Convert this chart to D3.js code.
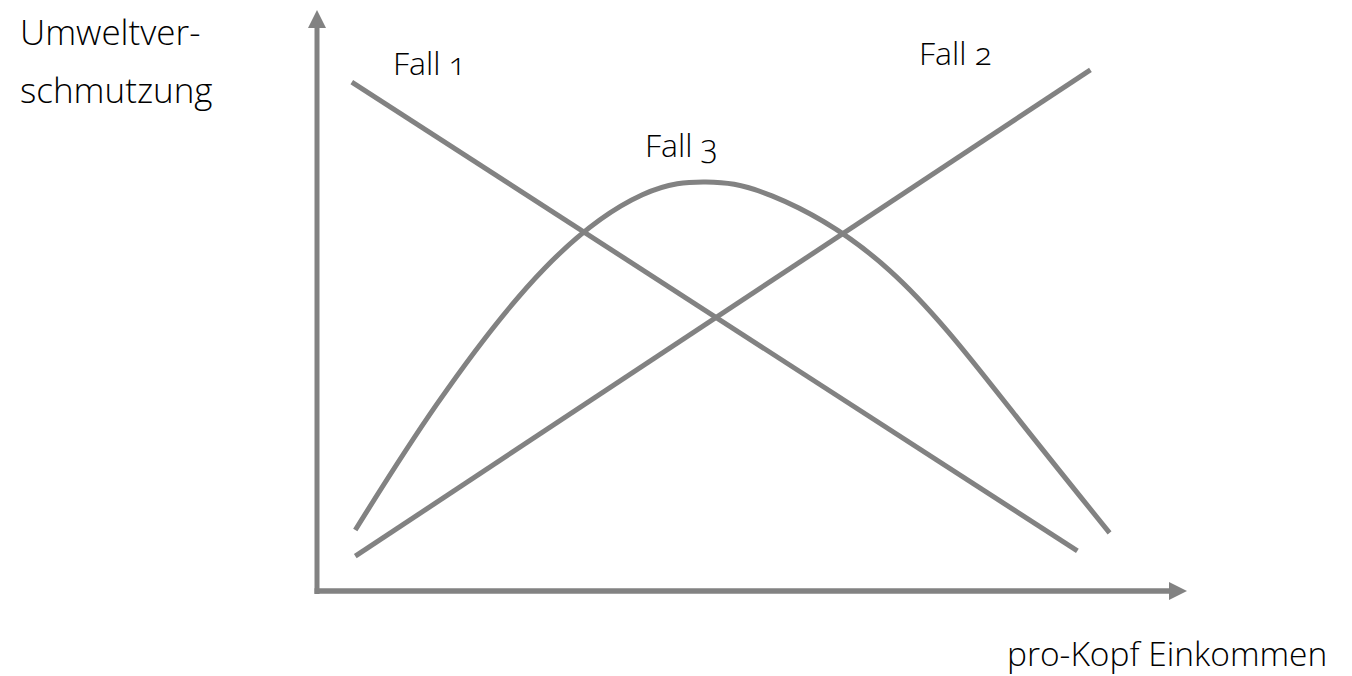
<!DOCTYPE html>
<html>
<head>
<meta charset="utf-8">
<script src="https://cdn.jsdelivr.net/npm/d3@7"></script>
<style>
  body { margin: 0; background: #fff; }
  text { font-family: "Open Sans", "Noto Sans", sans-serif; font-weight: 300; fill: #000; font-feature-settings: "onum"; }
</style>
</head>
<body>
<div id="chart"></div>
<script>
// data (arbitrary units 0..100 on both axes)
var fall1X = [4.0, 87.4];
var fall1Y = [87.6, 6.9];

var fall2X = [4.4, 88.9];
var fall2Y = [6.0, 89.7];

var fall3X = [4.4, 13.8, 26.2, 37.4, 44.7, 52.3, 65.8, 79.5, 91.1];
var fall3Y = [10.5, 32.2, 55.6, 68.2, 70.4, 68.0, 55.2, 31.7, 10.0];

var seriesNames = ["Fall 1", "Fall 2", "Fall 3"];
var yTitle = ["Umweltver-", "schmutzung"];
var xTitle = "pro-Kopf Einkommen";

var svgWidth = 1352;
var svgHeight = 676;
var grey = "#828282";

var svg = d3.select("#chart")
  .append("svg")
  .attr("width", svgWidth)
  .attr("height", svgHeight);

// scales
var xScale = d3.scaleLinear().domain([0, 100]).range([317, 1187]);
var yScale = d3.scaleLinear().domain([0, 100]).range([591, 10]);

function zip(xs, ys) {
  return xs.map((x, i) => [x, ys[i]]);
}

var straight = d3.line()
  .x(d => xScale(d[0]))
  .y(d => yScale(d[1]));

var curved = d3.line()
  .x(d => xScale(d[0]))
  .y(d => yScale(d[1]))
  .curve(d3.curveNatural);

// axes with arrow heads
var x0 = xScale(0), y0 = yScale(0);
var xEnd = xScale(100), yEnd = yScale(100);
var head = 18;

svg.append("line")
  .attr("x1", x0).attr("y1", y0 + 3)
  .attr("x2", x0).attr("y2", yEnd + head)
  .attr("stroke", grey).attr("stroke-width", 5);

svg.append("line")
  .attr("x1", x0 - 2.5).attr("y1", y0)
  .attr("x2", xEnd - head).attr("y2", y0)
  .attr("stroke", grey).attr("stroke-width", 5.5);

svg.append("path")
  .attr("d", `M${x0},${yEnd} L${x0 + 9},${yEnd + head} L${x0 - 9},${yEnd + head} Z`)
  .attr("fill", grey);

svg.append("path")
  .attr("d", `M${xEnd},${y0} L${xEnd - head},${y0 - 9} L${xEnd - head},${y0 + 9} Z`)
  .attr("fill", grey);

// series
var lines = [
  { d: zip(fall1X, fall1Y), gen: straight },
  { d: zip(fall2X, fall2Y), gen: straight },
  { d: zip(fall3X, fall3Y), gen: curved }
];

svg.selectAll("path.series")
  .data(lines)
  .enter()
  .append("path")
  .attr("class", "series")
  .attr("d", s => s.gen(s.d))
  .attr("fill", "none")
  .attr("stroke", grey)
  .attr("stroke-width", 5);

// labels
var labelPos = [[393, 75], [919, 65], [645, 157]];
svg.selectAll("text.fall")
  .data(seriesNames)
  .enter()
  .append("text")
  .attr("class", "fall")
  .attr("x", (d, i) => labelPos[i][0])
  .attr("y", (d, i) => labelPos[i][1])
  .style("font-size", "32px")
  .text(d => d);

svg.selectAll("text.ytitle")
  .data(yTitle)
  .enter()
  .append("text")
  .attr("class", "ytitle")
  .attr("x", 20)
  .attr("y", (d, i) => 45 + i * 58)
  .style("font-size", "35px")
  .text(d => d);

svg.append("text")
  .attr("x", 1007)
  .attr("y", 666)
  .style("font-size", "33.5px")
  .text(xTitle);
</script>
</body>
</html>
